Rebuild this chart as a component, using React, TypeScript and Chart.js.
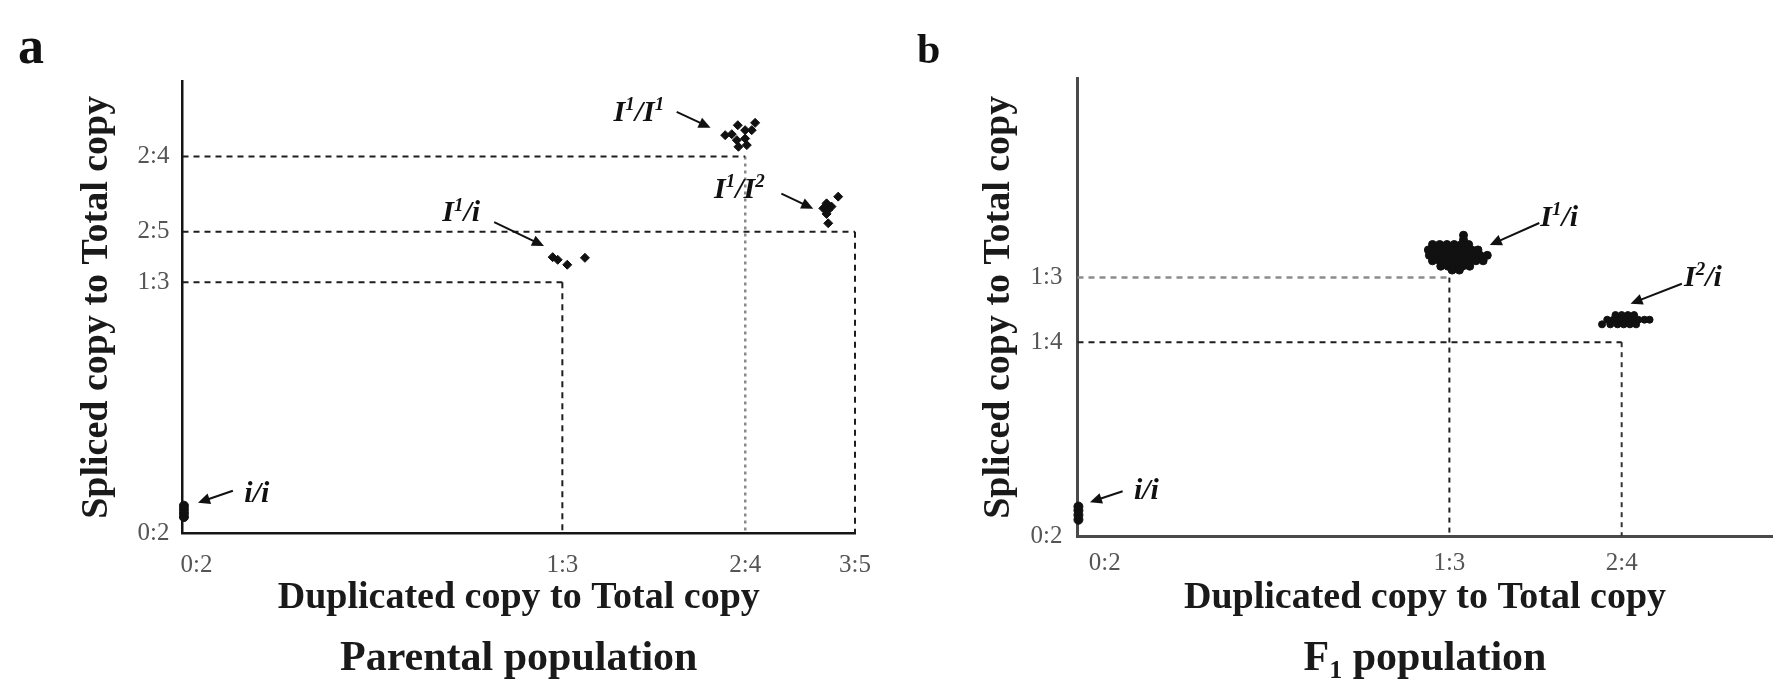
import React, { useEffect, useRef } from "react";
import { Chart, registerables } from "chart.js";

Chart.register(...registerables);

const FAMILY = "'Liberation Serif', 'Times New Roman', Times, serif";

type Pt = { x: number; y: number };

// ---------------- Panel a : Parental population ----------------
const xTickValuesA = [0, 1 / 3, 0.5, 0.6];
const xTickLabelsA = ["0:2", "1:3", "2:4", "3:5"];
const yTickValuesA = [0, 1 / 3, 0.4, 0.5];
const yTickLabelsA = ["0:2", "1:3", "2:5", "2:4"];

const iiA: Pt[] = [
  { x: -0.0115, y: 0.022 },
  { x: -0.0115, y: 0.027 },
  { x: -0.0115, y: 0.032 },
  { x: -0.0115, y: 0.037 },
];
const I1iA: Pt[] = [
  { x: 0.3245, y: 0.3665 },
  { x: 0.3291, y: 0.363 },
  { x: 0.3378, y: 0.3564 },
  { x: 0.3539, y: 0.3656 },
];
const I1I1A: Pt[] = [
  { x: 0.4817, y: 0.5282 },
  { x: 0.4877, y: 0.5295 },
  { x: 0.4932, y: 0.5414 },
  { x: 0.4999, y: 0.5348 },
  { x: 0.509, y: 0.5445 },
  { x: 0.5059, y: 0.5348 },
  { x: 0.4923, y: 0.5216 },
  { x: 0.4999, y: 0.5237 },
  { x: 0.4938, y: 0.5128 },
  { x: 0.5014, y: 0.515 },
];
const I1I2A: Pt[] = [
  { x: 0.5847, y: 0.4467 },
  { x: 0.5741, y: 0.4378 },
  { x: 0.5711, y: 0.4312 },
  { x: 0.5756, y: 0.4291 },
  { x: 0.5786, y: 0.4335 },
  { x: 0.5741, y: 0.4238 },
  { x: 0.5756, y: 0.4114 },
];
const guidesA: Pt[] = [
  { x: 1 / 3, y: 1 / 3 },
  { x: 0.5, y: 0.5 },
  { x: 0.6, y: 0.4 },
];

// ---------------- Panel b : F1 population ----------------
const xTickValuesB = [0, 1 / 3, 0.5];
const xTickLabelsB = ["0:2", "1:3", "2:4"];
const yTickValuesB = [0, 0.25, 1 / 3];
const yTickLabelsB = ["0:2", "1:4", "1:3"];

const iiB: Pt[] = [
  { x: -0.0255, y: 0.021 },
  { x: -0.0255, y: 0.027 },
  { x: -0.0255, y: 0.033 },
  { x: -0.0255, y: 0.038 },
];
const I1iB: Pt[] = [
  { x: 0.347, y: 0.388 },
  { x: 0.347, y: 0.382 },
  { x: 0.317, y: 0.376 }, { x: 0.324, y: 0.376 }, { x: 0.331, y: 0.376 },
  { x: 0.338, y: 0.376 }, { x: 0.345, y: 0.376 }, { x: 0.352, y: 0.376 },
  { x: 0.313, y: 0.369 }, { x: 0.32, y: 0.369 }, { x: 0.327, y: 0.369 },
  { x: 0.334, y: 0.369 }, { x: 0.341, y: 0.369 }, { x: 0.348, y: 0.369 },
  { x: 0.355, y: 0.369 }, { x: 0.361, y: 0.369 },
  { x: 0.314, y: 0.362 }, { x: 0.321, y: 0.362 }, { x: 0.328, y: 0.362 },
  { x: 0.335, y: 0.362 }, { x: 0.342, y: 0.362 }, { x: 0.349, y: 0.362 },
  { x: 0.356, y: 0.362 }, { x: 0.363, y: 0.362 }, { x: 0.37, y: 0.362 },
  { x: 0.317, y: 0.355 }, { x: 0.324, y: 0.355 }, { x: 0.331, y: 0.355 },
  { x: 0.338, y: 0.355 }, { x: 0.345, y: 0.355 }, { x: 0.352, y: 0.355 },
  { x: 0.359, y: 0.355 }, { x: 0.366, y: 0.355 },
  { x: 0.325, y: 0.348 }, { x: 0.332, y: 0.348 }, { x: 0.339, y: 0.348 },
  { x: 0.346, y: 0.348 }, { x: 0.353, y: 0.348 },
  { x: 0.336, y: 0.343 }, { x: 0.343, y: 0.343 },
];
const I2iB: Pt[] = [
  { x: 0.494, y: 0.285 }, { x: 0.5, y: 0.285 }, { x: 0.506, y: 0.285 }, { x: 0.512, y: 0.285 },
  { x: 0.486, y: 0.279 }, { x: 0.492, y: 0.279 }, { x: 0.498, y: 0.279 }, { x: 0.504, y: 0.279 },
  { x: 0.51, y: 0.279 }, { x: 0.516, y: 0.279 }, { x: 0.522, y: 0.279 }, { x: 0.527, y: 0.279 },
  { x: 0.481, y: 0.273 }, { x: 0.489, y: 0.273 }, { x: 0.496, y: 0.273 }, { x: 0.502, y: 0.273 },
  { x: 0.508, y: 0.273 }, { x: 0.514, y: 0.273 },
];
const guidesB: Pt[] = [
  { x: 1 / 3, y: 1 / 3 },
  { x: 0.5, y: 0.25 },
];

// ---------------- styling / layout ----------------
type LineStyle = { color: string; width: number; dash: number[] };
type Annot = { text: string; at: [number, number]; from: [number, number]; to: [number, number]; size: number };

interface Panel {
  left: number;
  width: number;
  height: number;
  padding: { left: number; top: number; right: number; bottom: number };
  yAxisWidth: number;
  xAxisHeight: number;
  xRange: [number, number];
  yRange: [number, number];
  xTicks: number[];
  xLabels: string[];
  yTicks: number[];
  yLabels: string[];
  groups: { data: Pt[]; style: string; radius: number }[];
  guides: Pt[];
  guideStyles: { h: LineStyle; v: LineStyle }[];
  annotations: Annot[];
  letter: { text: string; x: number; y: number; size: number };
  caption: string;
  captionY: number;
  axisColor: string;
  axisWidth: number;
  xTickPad: number;
  yTickPad: number;
  xTitlePad: number;
  yTitlePad: number;
}

const dark: LineStyle = { color: "#1e1e1e", width: 2, dash: [6, 5] };

const panelA: Panel = {
  left: 0,
  width: 890,
  height: 684,
  padding: { left: 70, top: 81, right: 35, bottom: 0 },
  yAxisWidth: 112.5,
  xAxisHeight: 150.4,
  xRange: [-0.0128, 0.6],
  yRange: [0, 0.6],
  xTicks: xTickValuesA,
  xLabels: xTickLabelsA,
  yTicks: yTickValuesA,
  yLabels: yTickLabelsA,
  groups: [
    { data: iiA, style: "circle", radius: 4.5 },
    { data: I1iA, style: "rectRot", radius: 4.5 },
    { data: I1I1A, style: "rectRot", radius: 4.5 },
    { data: I1I2A, style: "rectRot", radius: 4.5 },
  ],
  guides: guidesA,
  guideStyles: [
    { h: dark, v: dark },
    { h: dark, v: { color: "#8a8a8a", width: 2.5, dash: [3, 4] } },
    { h: dark, v: dark },
  ],
  annotations: [
    { text: "I^1/I^1", at: [0.403, 0.5603], from: [0.4375, 0.559], to: [0.4684, 0.538], size: 30 },
    { text: "I^1/I^2", at: [0.4947, 0.4586], from: [0.5329, 0.4506], to: [0.562, 0.4308], size: 30 },
    { text: "I^1/i", at: [0.2412, 0.4269], from: [0.2712, 0.413], to: [0.3166, 0.3813], size: 30 },
    { text: "i/i", at: [0.0549, 0.0555], from: [0.0331, 0.0568], to: [0.0013, 0.041], size: 30 },
  ],
  letter: { text: "a", x: 18, y: 63, size: 52 },
  caption: "Parental population",
  captionY: 670,
  axisColor: "#151515",
  axisWidth: 2.5,
  xTickPad: 17,
  yTickPad: 13,
  xTitlePad: 63,
  yTitlePad: 4,
};

const panelB: Panel = {
  left: 890,
  width: 888,
  height: 684,
  padding: { left: 80, top: 78.6, right: 0, bottom: 0 },
  yAxisWidth: 107.5,
  xAxisHeight: 148,
  xRange: [-0.0264, 0.6459],
  yRange: [0, 0.59],
  xTicks: xTickValuesB,
  xLabels: xTickLabelsB,
  yTicks: yTickValuesB,
  yLabels: yTickLabelsB,
  groups: [
    { data: iiB, style: "circle", radius: 4.5 },
    { data: I1iB, style: "circle", radius: 4 },
    { data: I2iB, style: "circle", radius: 3.5 },
  ],
  guides: guidesB,
  guideStyles: [
    { h: { color: "#8c8c8c", width: 2.5, dash: [6, 5] }, v: { color: "#222", width: 2, dash: [5, 5] } },
    { h: dark, v: { color: "#333", width: 2, dash: [5, 5] } },
  ],
  annotations: [
    { text: "I^1/i", at: [0.4395, 0.4127], from: [0.4203, 0.4037], to: [0.3724, 0.3754], size: 30 },
    { text: "I^2/i", at: [0.5787, 0.3355], from: [0.5582, 0.3254], to: [0.5086, 0.2996], size: 30 },
    { text: "i/i", at: [0.0403, 0.0603], from: [0.0173, 0.0577], to: [-0.0144, 0.0436], size: 30 },
  ],
  letter: { text: "b", x: 27, y: 63, size: 42 },
  caption: "F_1 population",
  captionY: 670,
  axisColor: "#4a4a4a",
  axisWidth: 3,
  xTickPad: 12,
  yTickPad: 15,
  xTitlePad: 63,
  yTitlePad: 6,
};

// ---------------- drawing helpers ----------------
type Seg = { t: string; k: "n" | "sup" | "sub" };

function parseRich(text: string): Seg[] {
  const segs: Seg[] = [];
  for (let i = 0; i < text.length; i++) {
    const c = text[i];
    if ((c === "^" || c === "_") && i + 1 < text.length) {
      segs.push({ t: text[i + 1], k: c === "^" ? "sup" : "sub" });
      i++;
    } else if (segs.length && segs[segs.length - 1].k === "n") {
      segs[segs.length - 1].t += c;
    } else {
      segs.push({ t: c, k: "n" });
    }
  }
  return segs;
}

function drawRich(
  ctx: CanvasRenderingContext2D,
  text: string,
  cx: number,
  baseline: number,
  size: number,
  style: string,
  color: string
) {
  const segs = parseRich(text);
  const font = (k: string) =>
    `${style} ${k === "n" ? size : Math.round(size * 0.62)}px ${FAMILY}`;
  let total = 0;
  const widths = segs.map((s) => {
    ctx.font = font(s.k);
    const w = ctx.measureText(s.t).width;
    total += w;
    return w;
  });
  let x = cx - total / 2;
  ctx.fillStyle = color;
  ctx.textAlign = "left";
  ctx.textBaseline = "alphabetic";
  segs.forEach((s, i) => {
    ctx.font = font(s.k);
    const dy = s.k === "sup" ? -size * 0.36 : s.k === "sub" ? size * 0.2 : 0;
    ctx.fillText(s.t, x, baseline + dy);
    x += widths[i];
  });
}

function drawArrow(ctx: CanvasRenderingContext2D, x1: number, y1: number, x2: number, y2: number) {
  const ang = Math.atan2(y2 - y1, x2 - x1);
  const L = 12;
  const W = 5.5;
  const c = Math.cos(ang);
  const s = Math.sin(ang);
  ctx.strokeStyle = "#111";
  ctx.fillStyle = "#111";
  ctx.lineWidth = 2;
  ctx.setLineDash([]);
  ctx.beginPath();
  ctx.moveTo(x1, y1);
  ctx.lineTo(x2 - L * 0.7 * c, y2 - L * 0.7 * s);
  ctx.stroke();
  ctx.beginPath();
  ctx.moveTo(x2, y2);
  ctx.lineTo(x2 - L * c + W * s, y2 - L * s - W * c);
  ctx.lineTo(x2 - L * c - W * s, y2 - L * s + W * c);
  ctx.closePath();
  ctx.fill();
}

function decorPlugin(p: Panel) {
  return {
    id: "decor",
    afterDraw(chart: any) {
      const ctx: CanvasRenderingContext2D = chart.ctx;
      const xs = chart.scales.x;
      const ys = chart.scales.y;
      ctx.save();
      p.annotations.forEach((a) => {
        drawArrow(
          ctx,
          xs.getPixelForValue(a.from[0]),
          ys.getPixelForValue(a.from[1]),
          xs.getPixelForValue(a.to[0]),
          ys.getPixelForValue(a.to[1])
        );
        drawRich(
          ctx,
          a.text,
          xs.getPixelForValue(a.at[0]),
          ys.getPixelForValue(a.at[1]) + a.size * 0.33,
          a.size,
          "italic bold",
          "#111"
        );
      });
      // panel letter
      ctx.font = `bold ${p.letter.size}px ${FAMILY}`;
      ctx.fillStyle = "#111";
      ctx.textAlign = "left";
      ctx.textBaseline = "alphabetic";
      ctx.fillText(p.letter.text, p.letter.x, p.letter.y);
      // population caption
      const ca = chart.chartArea;
      drawRich(ctx, p.caption, (ca.left + ca.right) / 2, p.captionY, 42, "bold", "#1a1a1a");
      ctx.restore();
    },
  };
}

function buildChart(canvas: HTMLCanvasElement, p: Panel) {
  const datasets: any[] = [];
  p.groups.forEach((g) => {
    datasets.push({
      type: "scatter",
      data: g.data,
      pointStyle: g.style,
      pointRadius: g.radius,
      pointBackgroundColor: "#111",
      pointBorderColor: "#111",
      pointBorderWidth: 1,
      showLine: false,
      clip: false,
      order: 0,
    });
  });
  p.guides.forEach((g, i) => {
    const st = p.guideStyles[i];
    datasets.push({
      type: "line",
      data: [
        { x: p.xRange[0], y: g.y },
        { x: g.x, y: g.y },
      ],
      borderColor: st.h.color,
      borderWidth: st.h.width,
      borderDash: st.h.dash,
      pointRadius: 0,
      fill: false,
      tension: 0,
      clip: false,
      order: 5,
    });
    datasets.push({
      type: "line",
      data: [
        { x: g.x, y: g.y },
        { x: g.x, y: p.yRange[0] },
      ],
      borderColor: st.v.color,
      borderWidth: st.v.width,
      borderDash: st.v.dash,
      pointRadius: 0,
      fill: false,
      tension: 0,
      clip: false,
      order: 5,
    });
  });

  const tickFont = { family: FAMILY, size: 25 };
  const titleFont = { family: FAMILY, size: 38, weight: "bold" as const, lineHeight: 1.2 };

  return new Chart(canvas, {
    type: "scatter",
    data: { datasets },
    options: {
      responsive: false,
      animation: false,
      events: [],
      layout: { padding: p.padding },
      plugins: {
        legend: { display: false },
        tooltip: { enabled: false },
        title: { display: false },
      },
      scales: {
        x: {
          type: "linear",
          position: "bottom",
          min: p.xRange[0],
          max: p.xRange[1],
          grid: { display: false, drawTicks: false },
          border: { display: true, color: p.axisColor, width: p.axisWidth },
          ticks: {
            autoSkip: false,
            maxRotation: 0,
            minRotation: 0,
            padding: p.xTickPad,
            color: "#555",
            font: tickFont,
            callback: (_v: any, i: number) => p.xLabels[i],
          },
          title: {
            display: true,
            text: "Duplicated copy to Total copy",
            color: "#1a1a1a",
            font: titleFont,
            padding: { top: 0, bottom: p.xTitlePad },
          },
          afterBuildTicks: (s: any) => {
            s.ticks = p.xTicks.map((v) => ({ value: v }));
          },
          afterFit: (s: any) => {
            s.height = p.xAxisHeight;
            s.paddingLeft = 0;
            s.paddingRight = 0;
            s.paddingTop = 0;
            s.paddingBottom = 0;
          },
        },
        y: {
          type: "linear",
          position: "left",
          min: p.yRange[0],
          max: p.yRange[1],
          grid: { display: false, drawTicks: false },
          border: { display: true, color: p.axisColor, width: p.axisWidth },
          ticks: {
            autoSkip: false,
            padding: p.yTickPad,
            color: "#555",
            font: tickFont,
            callback: (_v: any, i: number) => p.yLabels[i],
          },
          title: {
            display: true,
            text: "Spliced copy to Total copy",
            color: "#1a1a1a",
            font: titleFont,
            padding: { top: p.yTitlePad, bottom: 0 },
          },
          afterBuildTicks: (s: any) => {
            s.ticks = p.yTicks.map((v) => ({ value: v }));
          },
          afterFit: (s: any) => {
            s.width = p.yAxisWidth;
            s.paddingLeft = 0;
            s.paddingRight = 0;
            s.paddingTop = 0;
            s.paddingBottom = 0;
          },
        },
      },
    } as any,
    plugins: [decorPlugin(p)],
  });
}

export default function App() {
  const refA = useRef<HTMLCanvasElement>(null);
  const refB = useRef<HTMLCanvasElement>(null);

  useEffect(() => {
    const a = buildChart(refA.current as HTMLCanvasElement, panelA);
    const b = buildChart(refB.current as HTMLCanvasElement, panelB);
    return () => {
      a.destroy();
      b.destroy();
    };
  }, []);

  return (
    <div
      style={{
        position: "fixed",
        left: 0,
        top: 0,
        width: 1778,
        height: 684,
        background: "#fff",
        overflow: "hidden",
      }}
    >
      <canvas
        ref={refA}
        width={panelA.width}
        height={panelA.height}
        style={{ position: "absolute", left: panelA.left, top: 0, width: panelA.width, height: panelA.height }}
      />
      <canvas
        ref={refB}
        width={panelB.width}
        height={panelB.height}
        style={{ position: "absolute", left: panelB.left, top: 0, width: panelB.width, height: panelB.height }}
      />
    </div>
  );
}
